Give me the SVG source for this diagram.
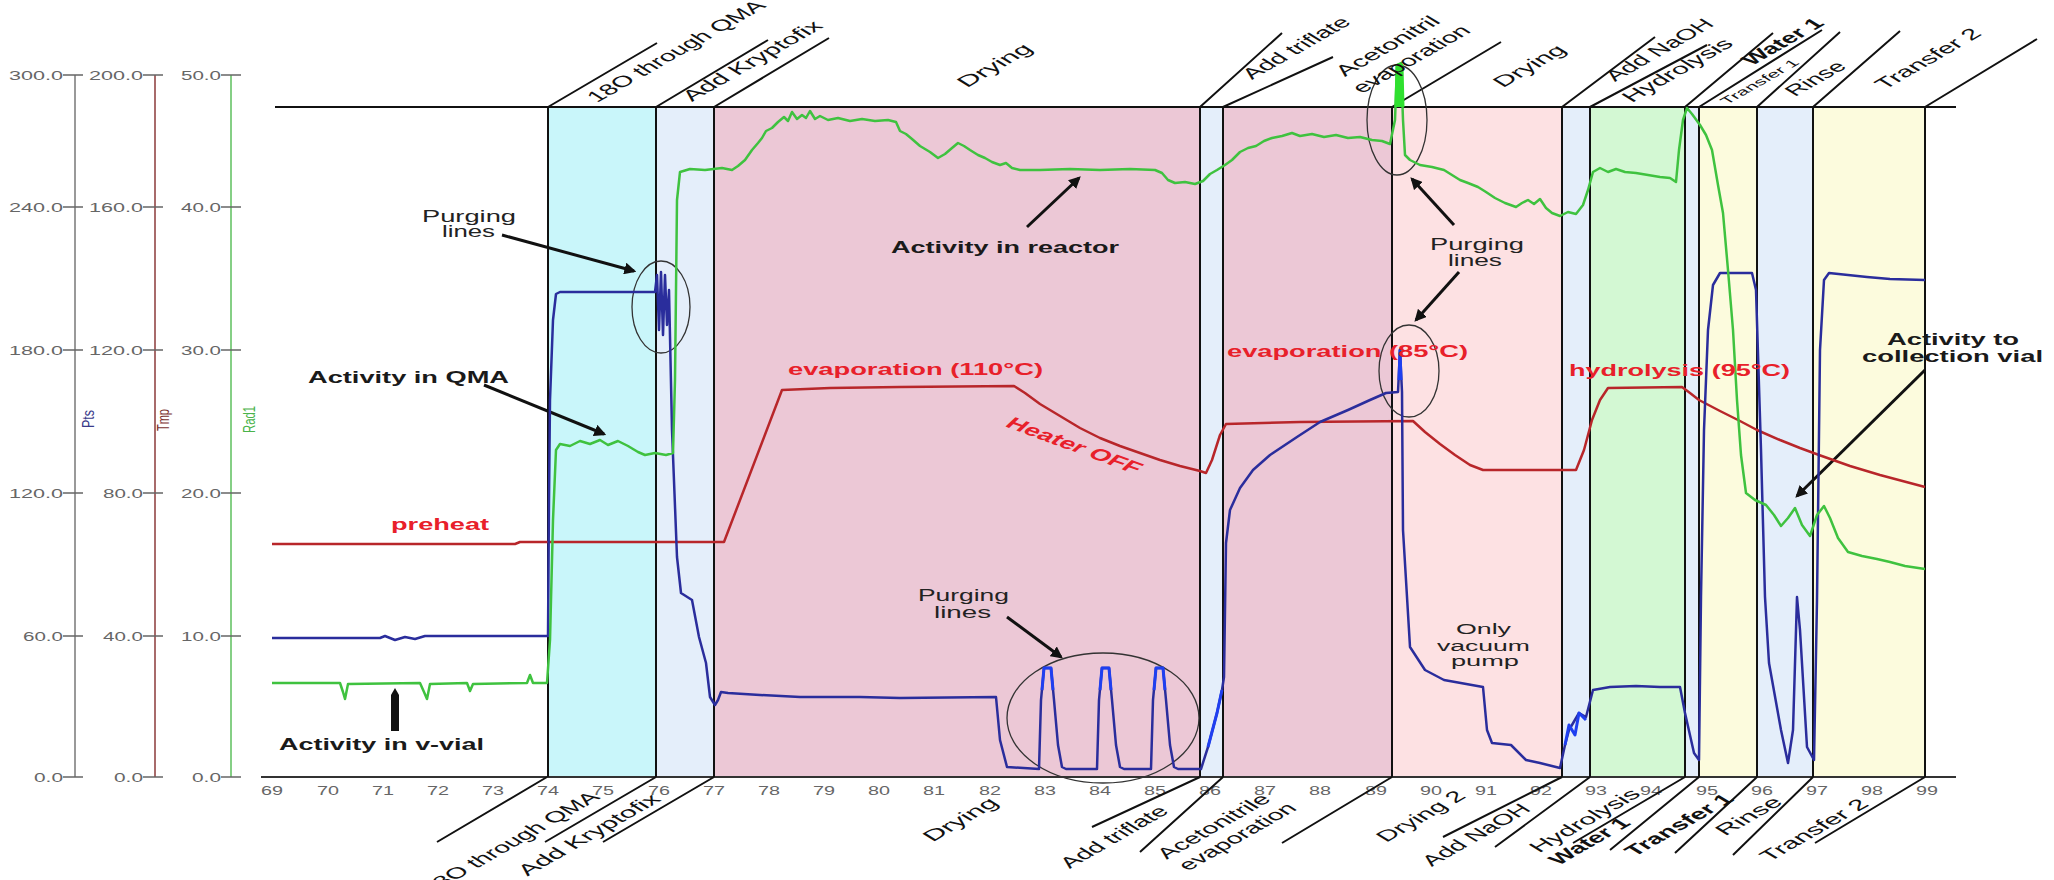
<svg xmlns="http://www.w3.org/2000/svg" width="2054" height="880" viewBox="0 0 2054 880">
<style>
.tk{font-family:"Liberation Sans",Arial,sans-serif;font-size:12px;fill:#666}
.lb{font-family:"Liberation Sans",Arial,sans-serif;font-size:16px;font-weight:bold;fill:#1a1a1a}
.rd{font-family:"Liberation Sans",Arial,sans-serif;font-size:16px;font-weight:bold;fill:#e8202a}
.nt{font-family:"Liberation Sans",Arial,sans-serif;font-size:16px;fill:#222}
.vp{font-family:"Liberation Sans",Arial,sans-serif;font-size:14px;fill:#222}
.rl{font-family:"Liberation Sans",Arial,sans-serif;font-size:15px;fill:#111}
.rb{font-family:"Liberation Sans",Arial,sans-serif;font-size:15px;font-weight:bold;fill:#111}
.bd{stroke:#111;stroke-width:2;fill:none}
.dg{stroke:#111;stroke-width:2;fill:none}
.arr{stroke:#111;stroke-width:3;fill:none;marker-end:url(#ah)}
.ell{stroke:#333;stroke-width:1.3;fill:none}
</style>
<defs>
<marker id="ah" viewBox="0 0 10 10" refX="8" refY="5" markerWidth="4" markerHeight="4" orient="auto"><path d="M0,0 L10,5 L0,10 z" fill="#111"/></marker>
</defs>
<rect width="2054" height="880" fill="#fff"/>

<g id="phases">
<rect x="548" y="107" width="108" height="670" fill="#c9f6fa"/>
<rect x="656" y="107" width="58" height="670" fill="#e4eefa"/>
<rect x="714" y="107" width="486" height="670" fill="#ecc8d6"/>
<rect x="1200" y="107" width="23" height="670" fill="#e4eefa"/>
<rect x="1223" y="107" width="169" height="670" fill="#ecc8d6"/>
<rect x="1392" y="107" width="170" height="670" fill="#fde1e3"/>
<rect x="1562" y="107" width="28" height="670" fill="#e4eefa"/>
<rect x="1590" y="107" width="95" height="670" fill="#d3f8d3"/>
<rect x="1685" y="107" width="14" height="670" fill="#e4eefa"/>
<rect x="1699" y="107" width="58" height="670" fill="#fcfbdd"/>
<rect x="1757" y="107" width="56" height="670" fill="#e4eefa"/>
<rect x="1813" y="107" width="112" height="670" fill="#fcfbdd"/>
</g>

<g id="axes">
<line x1="75" y1="75" x2="75" y2="777" stroke="#777" stroke-width="1.5"/>
<line x1="155" y1="75" x2="155" y2="777" stroke="#8b3a3a" stroke-width="1.5"/>
<line x1="231" y1="75" x2="231" y2="777" stroke="#5cbf5c" stroke-width="1.5"/>
<g stroke="#666" stroke-width="1.5">
<path d="M63,75H83M63,207H83M63,350H83M63,493H83M63,636H83M63,777H83"/>
<path d="M143,75H163M143,207H163M143,350H163M143,493H163M143,636H163M143,777H163"/>
<path d="M221,75H241M221,207H241M221,350H241M221,493H241M221,636H241M221,777H241"/>
</g>
<g class="tk" text-anchor="end">
<text x="63" y="80" textLength="54" lengthAdjust="spacingAndGlyphs">300.0</text>
<text x="63" y="212" textLength="54" lengthAdjust="spacingAndGlyphs">240.0</text>
<text x="63" y="355" textLength="54" lengthAdjust="spacingAndGlyphs">180.0</text>
<text x="63" y="498" textLength="54" lengthAdjust="spacingAndGlyphs">120.0</text>
<text x="63" y="641" textLength="40" lengthAdjust="spacingAndGlyphs">60.0</text>
<text x="63" y="782" textLength="29" lengthAdjust="spacingAndGlyphs">0.0</text>
<text x="143" y="80" textLength="54" lengthAdjust="spacingAndGlyphs">200.0</text>
<text x="143" y="212" textLength="54" lengthAdjust="spacingAndGlyphs">160.0</text>
<text x="143" y="355" textLength="54" lengthAdjust="spacingAndGlyphs">120.0</text>
<text x="143" y="498" textLength="40" lengthAdjust="spacingAndGlyphs">80.0</text>
<text x="143" y="641" textLength="40" lengthAdjust="spacingAndGlyphs">40.0</text>
<text x="143" y="782" textLength="29" lengthAdjust="spacingAndGlyphs">0.0</text>
<text x="221" y="80" textLength="40" lengthAdjust="spacingAndGlyphs">50.0</text>
<text x="221" y="212" textLength="40" lengthAdjust="spacingAndGlyphs">40.0</text>
<text x="221" y="355" textLength="40" lengthAdjust="spacingAndGlyphs">30.0</text>
<text x="221" y="498" textLength="40" lengthAdjust="spacingAndGlyphs">20.0</text>
<text x="221" y="641" textLength="40" lengthAdjust="spacingAndGlyphs">10.0</text>
<text x="221" y="782" textLength="29" lengthAdjust="spacingAndGlyphs">0.0</text>
</g>
<text transform="translate(94,428) scale(1.5,1) rotate(-90)" font-family="Liberation Sans, Arial, sans-serif" font-size="11" fill="#3a3a8a" textLength="18" lengthAdjust="spacingAndGlyphs">Pts</text>
<text transform="translate(169,431) scale(1.5,1) rotate(-90)" font-family="Liberation Sans, Arial, sans-serif" font-size="11" fill="#7a3030" textLength="22" lengthAdjust="spacingAndGlyphs">Tmp</text>
<text transform="translate(255,433) scale(1.5,1) rotate(-90)" font-family="Liberation Sans, Arial, sans-serif" font-size="11" fill="#4ab34a" textLength="27" lengthAdjust="spacingAndGlyphs">Rad1</text>
<line x1="275" y1="107" x2="1956" y2="107" stroke="#111" stroke-width="2"/>
<line x1="261" y1="777" x2="1956" y2="777" stroke="#333" stroke-width="2"/>
<g class="tk" text-anchor="middle">
<text x="272" y="795" textLength="22" lengthAdjust="spacingAndGlyphs">69</text>
<text x="328" y="795" textLength="22" lengthAdjust="spacingAndGlyphs">70</text>
<text x="383" y="795" textLength="22" lengthAdjust="spacingAndGlyphs">71</text>
<text x="438" y="795" textLength="22" lengthAdjust="spacingAndGlyphs">72</text>
<text x="493" y="795" textLength="22" lengthAdjust="spacingAndGlyphs">73</text>
<text x="548" y="795" textLength="22" lengthAdjust="spacingAndGlyphs">74</text>
<text x="603" y="795" textLength="22" lengthAdjust="spacingAndGlyphs">75</text>
<text x="659" y="795" textLength="22" lengthAdjust="spacingAndGlyphs">76</text>
<text x="714" y="795" textLength="22" lengthAdjust="spacingAndGlyphs">77</text>
<text x="769" y="795" textLength="22" lengthAdjust="spacingAndGlyphs">78</text>
<text x="824" y="795" textLength="22" lengthAdjust="spacingAndGlyphs">79</text>
<text x="879" y="795" textLength="22" lengthAdjust="spacingAndGlyphs">80</text>
<text x="934" y="795" textLength="22" lengthAdjust="spacingAndGlyphs">81</text>
<text x="990" y="795" textLength="22" lengthAdjust="spacingAndGlyphs">82</text>
<text x="1045" y="795" textLength="22" lengthAdjust="spacingAndGlyphs">83</text>
<text x="1100" y="795" textLength="22" lengthAdjust="spacingAndGlyphs">84</text>
<text x="1155" y="795" textLength="22" lengthAdjust="spacingAndGlyphs">85</text>
<text x="1210" y="795" textLength="22" lengthAdjust="spacingAndGlyphs">86</text>
<text x="1265" y="795" textLength="22" lengthAdjust="spacingAndGlyphs">87</text>
<text x="1320" y="795" textLength="22" lengthAdjust="spacingAndGlyphs">88</text>
<text x="1376" y="795" textLength="22" lengthAdjust="spacingAndGlyphs">89</text>
<text x="1431" y="795" textLength="22" lengthAdjust="spacingAndGlyphs">90</text>
<text x="1486" y="795" textLength="22" lengthAdjust="spacingAndGlyphs">91</text>
<text x="1541" y="795" textLength="22" lengthAdjust="spacingAndGlyphs">92</text>
<text x="1596" y="795" textLength="22" lengthAdjust="spacingAndGlyphs">93</text>
<text x="1651" y="795" textLength="22" lengthAdjust="spacingAndGlyphs">94</text>
<text x="1707" y="795" textLength="22" lengthAdjust="spacingAndGlyphs">95</text>
<text x="1762" y="795" textLength="22" lengthAdjust="spacingAndGlyphs">96</text>
<text x="1817" y="795" textLength="22" lengthAdjust="spacingAndGlyphs">97</text>
<text x="1872" y="795" textLength="22" lengthAdjust="spacingAndGlyphs">98</text>
<text x="1927" y="795" textLength="22" lengthAdjust="spacingAndGlyphs">99</text>
</g>
</g>

<g id="boundaries" class="bd">
<path d="M548,107V777M656,107V777M714,107V777M1200,107V777M1223,107V777M1392,107V777M1562,107V777M1590,107V777M1685,107V777M1699,107V777M1757,107V777M1813,107V777M1925,107V777"/>
</g>

<g id="connectors">
<g class="dg">
<path d="M548,107L657,43M656,107L768,40M714,107L829,38M1200,107L1282,33M1223,107L1333,57M1392,107L1501,42M1562,107L1655,37M1590,107L1707,45M1685,107L1773,33M1699,107L1822,30M1757,107L1840,32M1813,107L1900,31M1925,107L2037,39"/>
<path d="M547,777L437,842M656,777L545,842M714,777L603,842M1200,777L1092,827M1223,777L1140,852M1392,777L1282,843M1562,777L1443,837M1590,777L1495,847M1685,777L1573,843M1699,777L1610,850M1757,777L1675,853M1813,777L1733,855M1925,777L1815,843"/>
</g>
<line class="arr" x1="502" y1="235" x2="634" y2="271"/>
<line class="arr" x1="484" y1="385" x2="604" y2="434"/>
<line class="arr" x1="1027" y1="227" x2="1079" y2="178"/>
<line class="arr" x1="1007" y1="617" x2="1061" y2="657"/>
<line class="arr" x1="1454" y1="225" x2="1412" y2="179"/>
<line class="arr" x1="1459" y1="272" x2="1416" y2="320"/>
<line class="arr" x1="1925" y1="370" x2="1797" y2="496"/>
<path d="M391,731V695L395,688L399,695V731Z" fill="#111"/>
<ellipse class="ell" cx="661" cy="307" rx="29" ry="46"/>
<ellipse class="ell" cx="1103" cy="718" rx="96" ry="65"/>
<ellipse class="ell" cx="1397" cy="120" rx="30" ry="55"/>
<ellipse class="ell" cx="1409" cy="371" rx="30" ry="46"/>
</g>

<g id="curves" fill="none" stroke-linejoin="round">
<path id="tmp" stroke="#b8262a" stroke-width="2.5" d="M272,544 L515,544 L520,542 L724,542 L782,390 L830,388 L900,387 L1014,386 L1025,393 L1040,404 L1060,416 L1080,428 L1100,438 L1120,446 L1140,453 L1160,460 L1180,466 L1200,471 L1206,473 L1212,460 L1220,435 L1226,424 L1300,422 L1413,421 L1425,432 L1440,444 L1455,455 L1470,465 L1483,470 L1576,470 L1584,450 L1592,420 L1600,400 L1608,388 L1682,387 L1690,393 L1699,400 L1720,411 L1740,421 L1757,430 L1780,440 L1800,448 L1819,455 L1850,466 L1880,475 L1925,487"/>
<path id="pts" stroke="#2a2d9c" stroke-width="2.5" d="M272,638 L380,638 L385,636 L395,640 L405,637 L415,639 L425,636 L548,636 L549,500 L550,400 L553,320 L556,294 L560,292 L652,292 L655,292 L657,275 L659,330 L661,272 L663,335 L665,275 L667,325 L669,290 L672,430 L677,557 L681,593 L692,600 L699,637 L706,663 L710,697 L715,705 L718,700 L721,692 L728,693 L760,695 L800,697 L860,697 L900,698 L996,697 L1000,740 L1007,767 L1039,769 L1041,700 L1044,668 L1051,668 L1054,700 L1058,745 L1062,767 L1066,769 L1097,769 L1099,700 L1102,668 L1109,668 L1112,700 L1116,745 L1120,767 L1124,769 L1151,769 L1153,700 L1156,668 L1163,668 L1166,700 L1170,745 L1174,767 L1178,769 L1201,769 L1208,747 L1217,713 L1222,690 L1224,677 L1226,543 L1230,510 L1240,488 L1253,470 L1270,455 L1297,437 L1320,422 L1348,410 L1370,400 L1386,393 L1398,392 L1400,350 L1402,392 L1403,530 L1410,647 L1425,670 L1444,680 L1483,687 L1487,730 L1492,743 L1511,745 L1526,760 L1540,763 L1560,768 L1565,745 L1569,730 L1579,713 L1586,717 L1593,690 L1610,687 L1636,686 L1660,687 L1680,687 L1685,713 L1694,753 L1699,760 L1701,597 L1704,430 L1708,330 L1713,285 L1720,273 L1752,273 L1756,290 L1761,450 L1765,597 L1769,663 L1781,730 L1788,763 L1793,730 L1797,597 L1800,630 L1807,747 L1814,760 L1817,600 L1820,350 L1824,280 L1829,273 L1867,277 L1890,279 L1925,280"/>
<path stroke="#1f3ff0" stroke-width="3" d="M1042,690 L1044,668 L1051,668 L1053,690 M1100,690 L1102,668 L1109,668 L1111,690 M1154,690 L1156,668 L1163,668 L1165,690 M1399,380 L1400,350 L1401,380 M1565,745 L1569,725 L1575,735 L1579,713 L1586,720 M1208,747 L1217,713 L1222,690"/>
<path id="rad" stroke="#3fc23f" stroke-width="2.5" d="M272,683 L340,683 L343,692 L345,699 L348,684 L420,683 L424,692 L427,699 L430,684 L467,683 L470,691 L473,684 L527,683 L530,675 L533,683 L547,683 L550,640 L553,520 L556,450 L560,444 L570,446 L580,441 L590,444 L600,440 L608,445 L618,441 L628,446 L638,452 L645,455 L655,453 L666,455 L673,453 L675,380 L677,200 L680,172 L690,169 L705,170 L722,168 L732,170 L738,166 L745,160 L752,150 L758,143 L762,138 L766,131 L772,128 L778,122 L784,117 L788,121 L792,112 L797,119 L802,115 L806,118 L810,111 L815,119 L820,116 L828,120 L838,118 L850,121 L862,119 L875,121 L888,120 L896,122 L900,131 L906,134 L912,139 L920,146 L930,152 L938,158 L945,154 L952,148 L958,143 L964,146 L970,150 L978,155 L985,158 L992,162 L1000,165 L1006,163 L1012,168 L1020,170 L1040,170 L1070,169 L1100,170 L1130,169 L1155,170 L1162,173 L1168,180 L1175,183 L1185,182 L1195,184 L1203,181 L1210,174 L1217,170 L1225,165 L1232,160 L1240,152 L1248,148 L1256,146 L1264,141 L1272,138 L1282,136 L1292,133 L1300,136 L1312,134 L1324,137 L1336,135 L1348,138 L1360,137 L1372,140 L1382,141 L1390,144 L1395,120 L1397,65 L1401,63 L1403,120 L1405,155 L1410,160 L1420,165 L1432,167 L1444,170 L1452,175 L1460,180 L1468,183 L1478,187 L1486,192 L1495,198 L1505,203 L1516,207 L1522,203 L1528,200 L1534,204 L1540,199 L1546,208 L1552,213 L1560,216 L1568,212 L1576,214 L1583,205 L1588,190 L1593,172 L1600,168 L1608,172 L1616,169 L1625,172 L1636,173 L1648,175 L1660,177 L1670,178 L1676,182 L1679,150 L1683,120 L1687,108 L1692,114 L1700,125 L1706,135 L1712,150 L1718,185 L1723,213 L1728,270 L1733,330 L1737,400 L1741,455 L1746,493 L1755,500 L1766,505 L1774,515 L1781,526 L1788,518 L1795,508 L1802,525 L1810,536 L1817,515 L1824,506 L1830,518 L1838,538 L1848,552 L1862,556 L1877,559 L1890,562 L1905,566 L1925,569"/>
<path stroke="#2fe02f" stroke-width="5" d="M1397,107 L1398,66 L1401,66 L1402,107"/>
</g>

<g id="phase-labels-top">
<text class="rl" transform="translate(597,103) scale(1.7,1) rotate(-44)" textLength="139" lengthAdjust="spacingAndGlyphs">18O through QMA</text>
<text class="rl" transform="translate(692,102) scale(1.7,1) rotate(-44)" textLength="108" lengthAdjust="spacingAndGlyphs">Add Kryptofix</text>
<text class="rl" transform="translate(967,88) scale(1.7,1) rotate(-44)" textLength="55" lengthAdjust="spacingAndGlyphs">Drying</text>
<text class="rl" transform="translate(1252,80) scale(1.7,1) rotate(-44)" textLength="82" lengthAdjust="spacingAndGlyphs">Add triflate</text>
<text class="rl" transform="translate(1345,77) scale(1.7,1) rotate(-44)" textLength="79" lengthAdjust="spacingAndGlyphs">Acetonitril</text>
<text class="rl" transform="translate(1362,94) scale(1.7,1) rotate(-44)" textLength="90" lengthAdjust="spacingAndGlyphs">evaporation</text>
<text class="rl" transform="translate(1503,88) scale(1.7,1) rotate(-44)" textLength="53" lengthAdjust="spacingAndGlyphs">Drying</text>
<text class="rl" transform="translate(1615,82) scale(1.7,1) rotate(-44)" textLength="82" lengthAdjust="spacingAndGlyphs">Add NaOH</text>
<text class="rl" transform="translate(1632,103) scale(1.7,1) rotate(-44)" textLength="84" lengthAdjust="spacingAndGlyphs">Hydrolysis</text>
<text class="rb" transform="translate(1752,66) scale(1.7,1) rotate(-44)" textLength="60" lengthAdjust="spacingAndGlyphs">Water 1</text>
<text class="rl" style="font-size:10px" transform="translate(1727,105) scale(1.7,1) rotate(-44)" textLength="60" lengthAdjust="spacingAndGlyphs">Transfer 1</text>
<text class="rl" transform="translate(1795,97) scale(1.7,1) rotate(-44)" textLength="43" lengthAdjust="spacingAndGlyphs">Rinse</text>
<text class="rl" transform="translate(1885,90) scale(1.7,1) rotate(-44)" textLength="80" lengthAdjust="spacingAndGlyphs">Transfer 2</text>
</g>

<g id="phase-labels-bottom" text-anchor="end">
<text class="rl" transform="translate(601,798) scale(1.7,1) rotate(-44)" textLength="139" lengthAdjust="spacingAndGlyphs">18O through QMA</text>
<text class="rl" transform="translate(662,800) scale(1.7,1) rotate(-44)" textLength="110" lengthAdjust="spacingAndGlyphs">Add Kryptofix</text>
<text class="rl" transform="translate(1000,804) scale(1.7,1) rotate(-44)" textLength="55" lengthAdjust="spacingAndGlyphs">Drying</text>
<text class="rl" transform="translate(1170,812) scale(1.7,1) rotate(-44)" textLength="82" lengthAdjust="spacingAndGlyphs">Add triflate</text>
<text class="rl" transform="translate(1272,800) scale(1.7,1) rotate(-44)" textLength="86" lengthAdjust="spacingAndGlyphs">Acetonitrile</text>
<text class="rl" transform="translate(1298,809) scale(1.7,1) rotate(-44)" textLength="90" lengthAdjust="spacingAndGlyphs">evaporation</text>
<text class="rl" transform="translate(1467,797) scale(1.7,1) rotate(-44)" textLength="66" lengthAdjust="spacingAndGlyphs">Drying 2</text>
<text class="rl" transform="translate(1532,810) scale(1.7,1) rotate(-44)" textLength="82" lengthAdjust="spacingAndGlyphs">Add NaOH</text>
<text class="rl" transform="translate(1642,795) scale(1.7,1) rotate(-44)" textLength="84" lengthAdjust="spacingAndGlyphs">Hydrolysis</text>
<text class="rb" transform="translate(1632,824) scale(1.7,1) rotate(-44)" textLength="60" lengthAdjust="spacingAndGlyphs">Water 1</text>
<text class="rb" transform="translate(1735,800) scale(1.7,1) rotate(-44)" textLength="82" lengthAdjust="spacingAndGlyphs">Transfer 1</text>
<text class="rl" transform="translate(1784,803) scale(1.7,1) rotate(-44)" textLength="48" lengthAdjust="spacingAndGlyphs">Rinse</text>
<text class="rl" transform="translate(1870,805) scale(1.7,1) rotate(-44)" textLength="82" lengthAdjust="spacingAndGlyphs">Transfer 2</text>
</g>

<g id="annotations">
<text class="nt" x="422" y="222" textLength="94" lengthAdjust="spacingAndGlyphs">Purging</text>
<text class="nt" x="442" y="237" textLength="53" lengthAdjust="spacingAndGlyphs">lines</text>
<text class="lb" x="308" y="383" textLength="201" lengthAdjust="spacingAndGlyphs">Activity in QMA</text>
<text class="rd" x="391" y="530" textLength="98" lengthAdjust="spacingAndGlyphs">preheat</text>
<text class="lb" x="279" y="750" textLength="205" lengthAdjust="spacingAndGlyphs">Activity in v-vial</text>
<text class="lb" x="891" y="253" textLength="228" lengthAdjust="spacingAndGlyphs">Activity in reactor</text>
<text class="rd" x="788" y="375" textLength="255" lengthAdjust="spacingAndGlyphs">evaporation (110°C)</text>
<text class="rd" transform="translate(1004,426) scale(1.7,1) rotate(32)" textLength="91" lengthAdjust="spacingAndGlyphs">Heater OFF</text>
<text class="nt" x="918" y="601" textLength="91" lengthAdjust="spacingAndGlyphs">Purging</text>
<text class="nt" x="934" y="618" textLength="57" lengthAdjust="spacingAndGlyphs">lines</text>
<text class="rd" x="1227" y="357" textLength="241" lengthAdjust="spacingAndGlyphs">evaporation (85°C)</text>
<text class="nt" x="1430" y="250" textLength="94" lengthAdjust="spacingAndGlyphs">Purging</text>
<text class="nt" x="1448" y="266" textLength="54" lengthAdjust="spacingAndGlyphs">lines</text>
<text class="vp" x="1456" y="634" textLength="55" lengthAdjust="spacingAndGlyphs">Only</text>
<text class="vp" x="1437" y="651" textLength="93" lengthAdjust="spacingAndGlyphs">vacuum</text>
<text class="vp" x="1451" y="666" textLength="68" lengthAdjust="spacingAndGlyphs">pump</text>
<text class="rd" x="1569" y="376" textLength="221" lengthAdjust="spacingAndGlyphs">hydrolysis (95°C)</text>
<text class="lb" x="1887" y="345" textLength="132" lengthAdjust="spacingAndGlyphs">Activity to</text>
<text class="lb" x="1862" y="362" textLength="181" lengthAdjust="spacingAndGlyphs">collection vial</text>
</g>
</svg>
